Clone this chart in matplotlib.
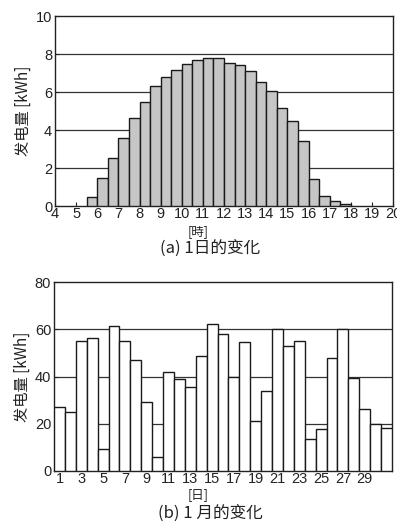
import matplotlib
matplotlib.use("Agg")
import matplotlib.pyplot as plt
import numpy as np

plt.rcParams['font.family'] = ['Liberation Sans', 'Noto Sans CJK JP', 'DejaVu Sans']

# (a) half-hourly generation over one day
hour_starts = [5.5, 6.0, 6.5, 7.0, 7.5, 8.0, 8.5, 9.0, 9.5, 10.0, 10.5, 11.0, 11.5,
               12.0, 12.5, 13.0, 13.5, 14.0, 14.5, 15.0, 15.5, 16.0, 16.5, 17.0, 17.5]
hour_kwh = [0.5, 1.45, 2.55, 3.6, 4.65, 5.5, 6.3, 6.8, 7.15, 7.45, 7.68, 7.78, 7.78,
            7.55, 7.4, 7.12, 6.52, 6.03, 5.18, 4.47, 3.4, 1.42, 0.55, 0.27, 0.09]
hour_ticks = list(range(4, 21))

# (b) daily generation over one month
days = list(range(1, 32))
day_kwh = [27.2, 25.1, 55.2, 56.2, 9.3, 61.3, 54.9, 46.9, 29.2, 6.1, 42.1, 39.0,
           35.6, 48.7, 62.1, 58.2, 39.9, 54.4, 21.3, 33.9, 59.9, 52.8, 54.9, 13.4,
           17.6, 47.7, 59.9, 39.4, 26.1, 20.1, 18.0]
day_ticks = list(range(1, 30, 2))

fig = plt.figure(figsize=(3.97, 5.31), dpi=100)
ax1 = fig.add_axes([55/397, 1-206/531, (393-55)/397, (206-16)/531])
ax2 = fig.add_axes([54/397, 1-471/531, (392-54)/397, (471-282)/531])

cjk = ['Noto Sans CJK JP', 'DejaVu Sans']

# top chart
ax1.bar(hour_starts, hour_kwh, width=0.5, align='edge', facecolor='#c6c6c6',
        edgecolor='#1a1a1a', linewidth=1.0, zorder=3)
ax1.set_xlim(4, 20)
ax1.set_ylim(0, 10)
ax1.set_xticks(hour_ticks)
ax1.set_yticks([0, 2, 4, 6, 8, 10])
for y in [2, 4, 6, 8]:
    ax1.axhline(y, color='#333333', linewidth=0.9, zorder=1)

# bottom chart
ax2.bar(days, day_kwh, width=1.0, facecolor='white', edgecolor='#1a1a1a',
        linewidth=1.0, zorder=3)
ax2.set_xlim(0.5, 31.5)
ax2.set_ylim(0, 80)
ax2.set_xticks(day_ticks)
ax2.set_yticks([0, 20, 40, 60, 80])
for y in [20, 40, 60]:
    ax2.axhline(y, color='#333333', linewidth=0.9, zorder=1)

for ax in (ax1, ax2):
    for s in ax.spines.values():
        s.set_color('#222222')
        s.set_linewidth(1.0)
    ax.tick_params(direction='in', length=3, width=0.8, labelsize=10.5,
                   colors='#222222', pad=2)
    ax.set_ylabel('发电量 [kWh]', fontsize=11, family=cjk, color='#222222', labelpad=3)

ax1.tick_params(axis='x', pad=1)
ax2.tick_params(axis='x', pad=1)

fig.text(0.5, 1-232/531, '[時]', ha='center', va='center', fontsize=9, family=cjk, color='#222222')
fig.text(0.53, 1-249/531, '(a) 1日的变化', ha='center', va='center', fontsize=12, family=cjk, color='#222222')
fig.text(0.5, 1-495/531, '[日]', ha='center', va='center', fontsize=9, family=cjk, color='#222222')
fig.text(0.53, 1-514/531, '(b) 1 月的变化', ha='center', va='center', fontsize=12, family=cjk, color='#222222')

fig.savefig('out.png', dpi=100, facecolor='white')
